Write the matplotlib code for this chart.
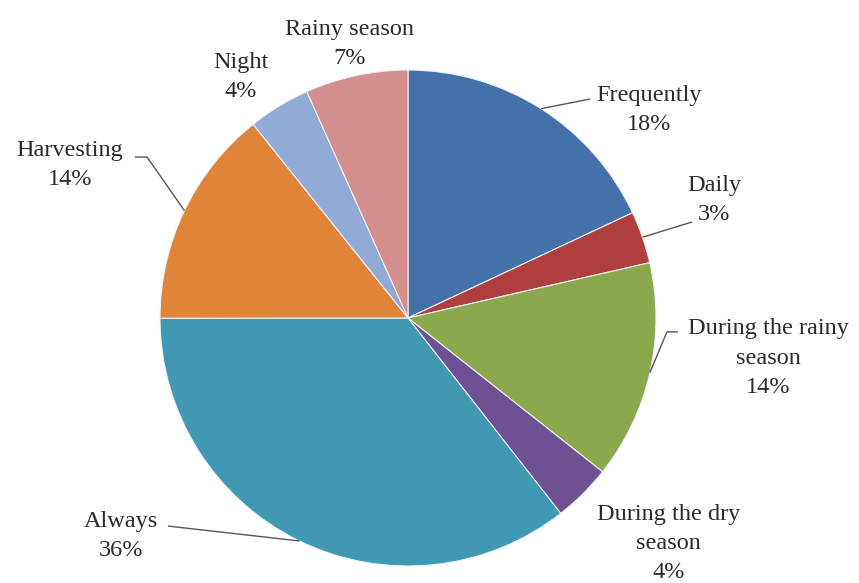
import matplotlib
matplotlib.use("Agg")
import matplotlib.pyplot as plt
import numpy as np

categories = ["Frequently", "Daily", "During the rainy\nseason", "During the dry\nseason",
              "Always", "Harvesting", "Night", "Rainy season"]
values = [18.05, 3.4, 14.25, 3.8, 35.6, 14.3, 4.05, 6.7]
colors = ["#4471A9", "#AE3F3E", "#8BA84C", "#6E5192", "#4198B2", "#DF8439", "#91AAD6", "#D58F8F"]

# label text centre (data units, pie radius = 1) and leader-line bend points (None = no line)
label_pos = [(0.972, 0.840), (1.234, 0.475), (1.454, -0.162), (1.050, -0.910),
             (-1.157, -0.878), (-1.363, 0.617), (-0.673, 0.972), (-0.234, 1.105)]
elbow = [((0.734, 0.883), (0.734, 0.883)), ((1.145, 0.387), (1.145, 0.387)),
         ((1.044, -0.056), (1.089, -0.056)), None,
         ((-0.968, -0.839), (-0.968, -0.839)), ((-1.052, 0.649), (-1.101, 0.649)), None, None]

fig = plt.figure(figsize=(8.59, 5.83), dpi=100)
ax = fig.add_axes([0, 0, 1, 1])
wedges, _ = ax.pie(values, colors=colors, startangle=90, counterclock=False, radius=1.0,
                   center=(0, 0), wedgeprops=dict(edgecolor="#EEF3F8", linewidth=0.8))
ax.set_xlim(-408 / 248, (859 - 408) / 248)
ax.set_ylim(-(583 - 318) / 248, 318 / 248)
ax.set_aspect("auto")
ax.axis("off")

total = sum(values)
for w, cat, v, pos, el in zip(wedges, categories, values, label_pos, elbow):
    mid = np.deg2rad((w.theta1 + w.theta2) / 2)
    ax.text(pos[0], pos[1], f"{cat}\n{round(v / total * 100)}%", ha="center", va="center",
            fontsize=17.5, family="Liberation Serif", color="#2a2a2a", linespacing=1.52)
    if el is not None:
        ax_pt = (np.cos(mid), np.sin(mid))
        xs = [ax_pt[0], el[0][0], el[1][0]]
        ys = [ax_pt[1], el[0][1], el[1][1]]
        ax.plot(xs, ys, color="#555555", lw=1.0, solid_capstyle="butt")

fig.savefig("out.png", dpi=100)
